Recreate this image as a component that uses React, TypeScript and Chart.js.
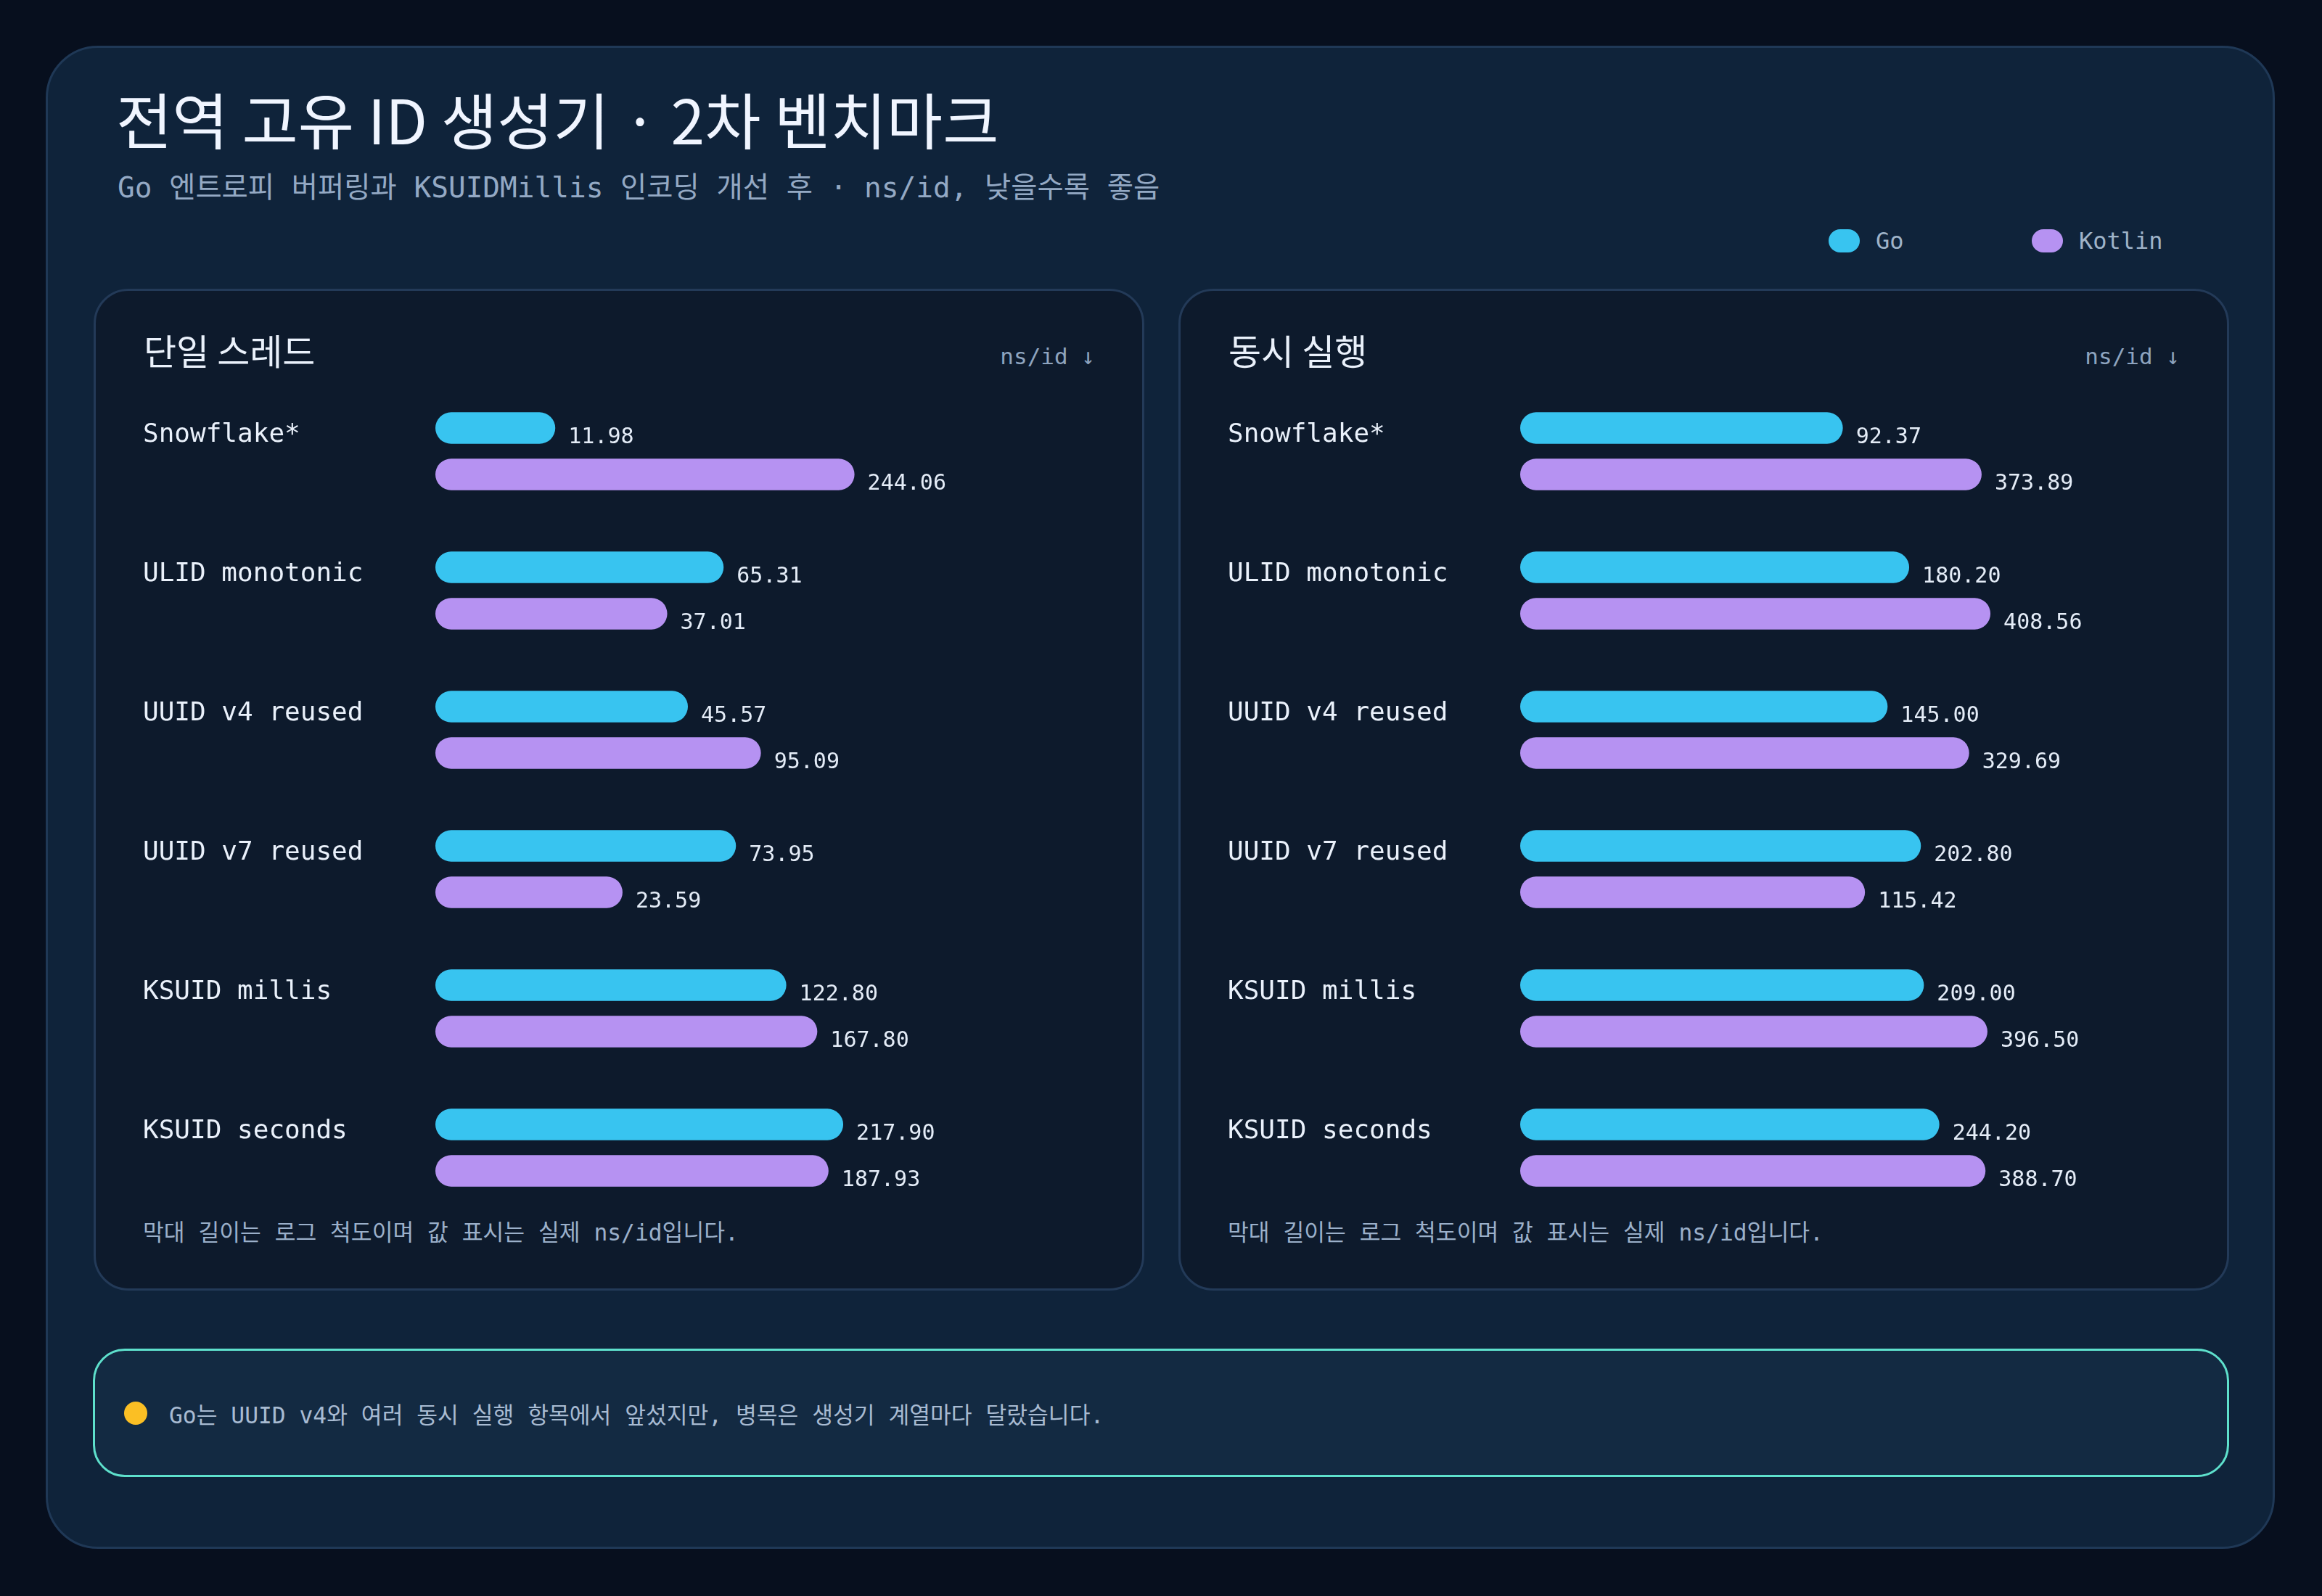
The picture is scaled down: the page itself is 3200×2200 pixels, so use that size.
import { useEffect, useRef } from "react";
import { Chart, registerables } from "chart.js";

Chart.register(...registerables);

// 측정값 (ns/id, 낮을수록 좋음)
const generators = ["Snowflake*", "ULID monotonic", "UUID v4 reused", "UUID v7 reused", "KSUID millis", "KSUID seconds"];
const singleGo = [11.98, 65.31, 45.57, 73.95, 122.8, 217.9];
const singleKotlin = [244.06, 37.01, 95.09, 23.59, 167.8, 187.93];
const concurrentGo = [92.37, 180.2, 145.0, 202.8, 209.0, 244.2];
const concurrentKotlin = [373.89, 408.56, 329.69, 115.42, 396.5, 388.7];
const seriesNames = ["Go", "Kotlin"];
const seriesColors = ["#38c4f0", "#b692f2"];
const logMin = 3.58;
const logMax = 3580;

const MONO = '"DejaVu Sans Mono", "Noto Sans CJK KR", monospace';
const SANS = '"Noto Sans CJK KR", "Noto Sans", sans-serif';

const rowText = {
  id: "rowText",
  afterDatasetsDraw(chart: Chart) {
    const ctx = chart.ctx;
    ctx.save();
    ctx.textBaseline = "alphabetic";
    ctx.textAlign = "left";
    chart.data.datasets.forEach((ds, di) => {
      const meta = chart.getDatasetMeta(di);
      meta.data.forEach((bar: any, i) => {
        const v = ds.data[i] as number;
        ctx.font = `30px ${MONO}`;
        ctx.fillStyle = "#e4ecf7";
        ctx.fillText(v.toFixed(2), bar.x + 18, bar.y + bar.height / 2 - 1);
        if (di === 0) {
          ctx.font = `36px ${MONO}`;
          ctx.fillStyle = "#eaf1fb";
          ctx.fillText(String(chart.data.labels![i]), 65, bar.y + bar.height / 2 - 3);
        }
      });
    });
    ctx.restore();
  },
};

function BarPanel({ go, kotlin }: { go: number[]; kotlin: number[] }) {
  const ref = useRef<HTMLCanvasElement | null>(null);
  useEffect(() => {
    if (!ref.current) return;
    const chart = new Chart(ref.current, {
      type: "bar",
      data: {
        labels: generators,
        datasets: [go, kotlin].map((d, i) => ({
          label: seriesNames[i],
          data: d,
          backgroundColor: seriesColors[i],
          borderRadius: 999,
          borderSkipped: false,
          categoryPercentage: 0.6665,
          barPercentage: 0.68,
        })),
      },
      options: {
        indexAxis: "y",
        animation: false,
        responsive: true,
        maintainAspectRatio: false,
        layout: { padding: { left: 468, right: 29, top: 0, bottom: 0 } },
        scales: {
          x: { type: "logarithmic", min: logMin, max: logMax, display: false },
          y: { type: "category", display: false },
        },
        plugins: { legend: { display: false }, tooltip: { enabled: false } },
      },
      plugins: [rowText],
    });
    return () => chart.destroy();
  }, []);
  return (
    <div style={{ position: "absolute", left: 0, top: 125, width: "100%", height: 1152 }}>
      <canvas ref={ref} />
    </div>
  );
}

function Panel({ left, title, go, kotlin }: { left: number; title: string; go: number[]; kotlin: number[] }) {
  return (
    <div
      style={{
        position: "absolute", left, top: 398, width: 1448, height: 1381, boxSizing: "border-box",
        border: "3px solid #233a58", borderRadius: 48, background: "#0d1a2c",
      }}
    >
      <div style={{ position: "absolute", left: 66, top: 56, fontFamily: SANS, fontWeight: 400, fontSize: 49, lineHeight: 1, color: "#eaf1fb", whiteSpace: "nowrap" }}>{title}</div>
      <div style={{ position: "absolute", right: 65, top: 75, fontSize: 31, lineHeight: 1, color: "#8ea4bf", whiteSpace: "nowrap" }}>ns/id ↓</div>
      <BarPanel go={go} kotlin={kotlin} />
      <div style={{ position: "absolute", left: 65, top: 1283, fontSize: 31.3, lineHeight: 1, color: "#9bb0ca", whiteSpace: "nowrap" }}>
        막대 길이는 로그 척도이며 값 표시는 실제 ns/id입니다.
      </div>
    </div>
  );
}

export default function App() {
  return (
    <div style={{ position: "fixed", left: 0, top: 0, width: 3200, height: 2200, background: "#070f1e", fontFamily: MONO, overflow: "hidden" }}>
      <div style={{ position: "absolute", left: 63, top: 63, width: 3072, height: 2072, boxSizing: "border-box", border: "3px solid #1f3856", borderRadius: 72, background: "#0f233a" }} />
      <div style={{ position: "absolute", left: 160, top: 121, fontFamily: SANS, fontWeight: 400, fontSize: 84, lineHeight: 1, color: "#f0f5ff", whiteSpace: "nowrap" }}>
        전역 고유 ID 생성기 · 2차 벤치마크
      </div>
      <div style={{ position: "absolute", left: 162, top: 239, fontSize: 39.4, lineHeight: 1, color: "#94a9c4", whiteSpace: "nowrap" }}>
        Go 엔트로피 버퍼링과 KSUIDMillis 인코딩 개선 후 · ns/id, 낮을수록 좋음
      </div>
      {seriesNames.map((n, i) => (
        <div key={n} style={{ position: "absolute", left: 2520 + i * 280, top: 316, height: 32, display: "flex", alignItems: "center", whiteSpace: "nowrap" }}>
          <span style={{ display: "inline-block", width: 43, height: 32, borderRadius: 16, background: seriesColors[i] }} />
          <span style={{ marginLeft: 22, fontSize: 32, color: "#9fb3c8" }}>{n}</span>
        </div>
      ))}
      <Panel left={129} title="단일 스레드" go={singleGo} kotlin={singleKotlin} />
      <Panel left={1624} title="동시 실행" go={concurrentGo} kotlin={concurrentKotlin} />
      <div style={{ position: "absolute", left: 128, top: 1859, width: 2944, height: 177, boxSizing: "border-box", border: "3px solid #5ee0cc", borderRadius: 44, background: "#132a42" }} />
      <div style={{ position: "absolute", left: 171, top: 1932, width: 32, height: 32, borderRadius: 16, background: "#fbbf24" }} />
      <div style={{ position: "absolute", left: 233, top: 1936, fontSize: 31.3, lineHeight: 1, color: "#a8bbd2", whiteSpace: "nowrap" }}>
        Go는 UUID v4와 여러 동시 실행 항목에서 앞섰지만, 병목은 생성기 계열마다 달랐습니다.
      </div>
    </div>
  );
}
